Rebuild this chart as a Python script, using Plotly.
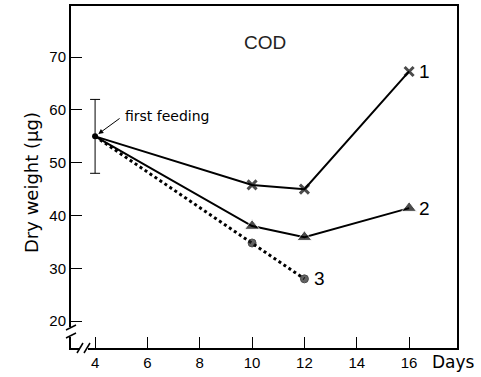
import plotly.graph_objects as go

# Data
days1 = [4, 10, 12, 16]
weight1 = [55, 45.8, 45.0, 67.3]
days2 = [4, 10, 12, 16]
weight2 = [55, 38.0, 35.9, 41.4]
days3 = [4, 10, 12]
weight3 = [55, 34.8, 28.0]
start_day = [4]
start_weight = [55]
start_err = [7]
series_labels = ["1", "2", "3"]
x_ticks = [4, 6, 8, 10, 12, 14, 16]
y_ticks = [20, 30, 40, 50, 60, 70]

fig = go.Figure()

fig.add_trace(go.Scatter(x=days1, y=weight1, mode="lines+markers",
                         line=dict(color="black", width=2),
                         marker=dict(symbol="x-thin", size=[0, 9, 9, 9], color="black",
                                     line=dict(width=3, color="black")),
                         showlegend=False))
fig.add_trace(go.Scatter(x=days2, y=weight2, mode="lines+markers",
                         line=dict(color="black", width=2),
                         marker=dict(symbol="triangle-up", size=[0, 13, 13, 13], color="black"),
                         showlegend=False))
fig.add_trace(go.Scatter(x=days3, y=weight3, mode="lines+markers",
                         line=dict(color="black", width=3, dash="dot"),
                         marker=dict(symbol="circle", size=[0, 8, 8], color="#222"),
                         showlegend=False))
fig.add_trace(go.Scatter(x=start_day, y=start_weight, mode="markers",
                         marker=dict(symbol="circle", size=6, color="black"),
                         error_y=dict(type="data", array=start_err, color="black",
                                      thickness=1, width=5),
                         showlegend=False))

# end labels
ends = [(days1[-1], weight1[-1]), (days2[-1], weight2[-1]), (days3[-1], weight3[-1])]
for lab, (xx, yy) in zip(series_labels, ends):
    fig.add_annotation(x=xx, y=yy, text=lab, showarrow=False, xanchor="left",
                       xshift=8, font=dict(family="Liberation Sans", size=19, color="black"))

fig.add_annotation(x=10.5, y=72.8, text="COD", showarrow=False,
                   font=dict(family="Liberation Sans", size=19, color="#222"))

# first feeding
fig.add_annotation(x=5.07, y=58.8, text="first feeding", showarrow=False, xanchor="left",
                   font=dict(family="DejaVu Sans", size=14, color="black"))
fig.add_annotation(x=4, y=55, text="", showarrow=True, ax=26, ay=-19,
                   arrowhead=2, arrowsize=1, arrowwidth=1, arrowcolor="black", standoff=4)


def px(xp):
    return (xp - 71) / 386


def py(yp):
    return (348 - yp) / 342


# axis titles
fig.add_annotation(xref="paper", yref="paper", x=px(31), y=py(183), text="Dry weight (µg)",
                   textangle=-90, showarrow=False, xanchor="center", yanchor="middle",
                   font=dict(family="DejaVu Sans", size=18, color="black"))
fig.add_annotation(xref="paper", yref="paper", x=px(430), y=py(362), text="Days",
                   showarrow=False, xanchor="left", yanchor="middle",
                   font=dict(family="DejaVu Sans", size=17, color="black"))

# axis breaks
fig.add_shape(type="rect", xref="paper", yref="paper", x0=px(68), x1=px(74),
              y0=py(337), y1=py(327), fillcolor="white", line=dict(width=0), layer="above")
fig.add_shape(type="line", xref="paper", yref="paper", x0=px(66), y0=py(330), x1=px(76), y1=py(325),
              line=dict(color="black", width=1.5), layer="above")
fig.add_shape(type="line", xref="paper", yref="paper", x0=px(66), y0=py(338), x1=px(76), y1=py(333),
              line=dict(color="black", width=1.5), layer="above")
fig.add_shape(type="rect", xref="paper", yref="paper", x0=px(80), x1=px(88),
              y0=py(351), y1=py(345), fillcolor="white", line=dict(width=0), layer="above")
fig.add_shape(type="line", xref="paper", yref="paper", x0=px(77), y0=py(353), x1=px(83), y1=py(343),
              line=dict(color="black", width=1.5), layer="above")
fig.add_shape(type="line", xref="paper", yref="paper", x0=px(84), y0=py(353), x1=px(90), y1=py(343),
              line=dict(color="black", width=1.5), layer="above")

fig.update_xaxes(range=[3.08, 17.83], tickvals=x_ticks, ticks="inside", ticklen=11,
                 tickwidth=1, tickcolor="black", showline=True, linecolor="black",
                 linewidth=2, mirror=True, showgrid=False, zeroline=False, automargin=False,
                 tickfont=dict(family="Liberation Sans", size=15, color="black"))
fig.update_yaxes(range=[14.9, 79.7], tickvals=y_ticks, ticks="inside", ticklen=11,
                 tickwidth=1, tickcolor="black", showline=True, linecolor="black",
                 linewidth=2, mirror=True, showgrid=False, zeroline=False, automargin=False,
                 tickfont=dict(family="Liberation Sans", size=15, color="black"))

fig.update_layout(width=481, height=377, margin=dict(l=71, r=24, t=6, b=29),
                  plot_bgcolor="white", paper_bgcolor="white")

fig.write_html("out.html", config={"displayModeBar": False},
               post_script="document.body.style.margin='0';document.body.style.padding='0';")
